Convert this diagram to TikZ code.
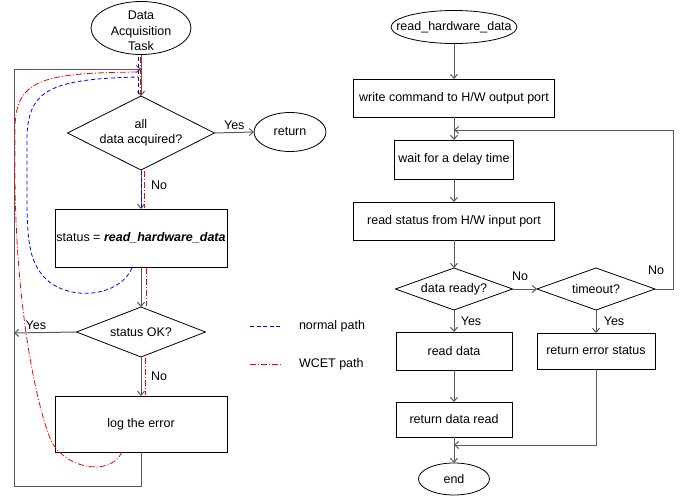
\documentclass[tikz,border=0pt]{standalone}
\usepackage{fontspec}
\setmainfont{Liberation Sans}
\usetikzlibrary{shapes.geometric,arrows.meta}
\begin{document}
\begin{tikzpicture}[x=1pt,y=-1pt,
  font=\fontsize{12.5}{15.5}\selectfont,
  every node/.style={inner sep=0pt, outer sep=0pt},
  box/.style={draw=black, line width=0.8pt, fill=white, rectangle, align=center},
  ellshape/.style={draw=black, line width=0.8pt, fill=white, ellipse},
  dia/.style={draw=black, line width=0.8pt, fill=white, diamond, align=center},
  conn/.style={draw=black!65, line width=1pt, -{Straight Barb[length=4pt,width=7pt]}},
  plain/.style={draw=black!65, line width=1pt},
  npath/.style={blue, line width=0.8pt, dash pattern=on 4pt off 2.6pt},
  wpath/.style={red, line width=0.8pt, dash pattern=on 6pt off 2pt on 1pt off 2pt},
]
\useasboundingbox (0,0) rectangle (681,498);

% ---------- left chart ----------
\node[ellshape, minimum width=100pt, minimum height=53pt] (start) at (141,28) {};
\node[align=center] (startT) at (141,31) {Data\\Acquisition\\Task};
\node[dia, aspect=2, minimum width=147pt, minimum height=74pt] (q1) at (141,133) {all\\data acquired?};
\node[ellshape, minimum width=72pt, minimum height=39pt] (ret) at (290,132) {return};
\node[box, minimum width=172pt, minimum height=58pt] (stat) at (141,238) {status = \textbf{\textit{read\_hardware\_data}}};
\node[dia, aspect=2.58, minimum width=129pt, minimum height=50pt] (q2) at (141,332) {status OK?};
\node[box, minimum width=172pt, minimum height=56pt] (log) at (141,424) {log the error};

\coordinate (lb) at (141,486);
\coordinate (lt) at (14,69);
\coordinate (ly) at (14,333);

\draw[conn] (start.south) -- (q1.north);
\draw[conn] (q1.east) -- node[above=3pt] (yes1) {Yes} (ret.west);
\draw[conn] (q1.south) -- node[right=10pt, pos=0.4] (no1) {No} (stat.north);
\draw[conn] (stat.south) -- (q2.north);
\draw[conn] (q2.west) -- node[above=3pt, pos=0.65] (yes2) {Yes} (ly);
\draw[conn] (q2.south) -- node[right=10pt, pos=0.5] (no2) {No} (log.north);
\draw[conn] (log.south) -- (lb) -| (lt) -- (start.south |- lt);

% normal path (blue)
\draw[npath] (138,57) -- (138,95);
\draw[npath] (141,171) -- (141,208);
\draw[npath] (132,268) .. controls (118,300) and (60,302) .. (40,272)
  .. controls (30,258) and (27,240) .. (27,200) -- (27,140)
  .. controls (27,90) and (50,79) .. (138,77);

% WCET path (red)
\draw[wpath] (140,57) -- (140,95);
\draw[wpath] (144,171) -- (144,208);
\draw[wpath] (146,268) -- (146,306);
\draw[wpath] (145,358) -- (145,395);
\draw[wpath] (122,452) .. controls (110,478) and (62,468) .. (50,438)
  .. controls (35,400) and (15,300) .. (15,170) -- (15,130)
  .. controls (15,80) and (40,73) .. (137,72);

% legend
\coordinate (n1) at (250,326);
\coordinate (n2) at (283,326);
\coordinate (w1a) at (250,364);
\coordinate (w2a) at (283,364);
\draw[npath] (n1) -- (n2);
\draw[wpath] (w1a) -- (w2a);
\node[anchor=west] (nlab) at (299,326) {normal path};
\node[anchor=west] (wlab) at (299,364) {WCET path};

% ---------- right chart ----------
\node[ellshape, minimum width=126pt, minimum height=33pt] (rs) at (454,27) {};
\node (rsT) at (454,27) {read\_hardware\_data};
\node[box, minimum width=201pt, minimum height=38pt] (b1) at (454,98) {write command to H/W output port};
\node[box, minimum width=119pt, minimum height=39pt] (b2) at (454,159.5) {wait for a delay time};
\node[box, minimum width=201pt, minimum height=38pt] (b3) at (454,221) {read status from H/W input port};
\node[dia, aspect=2.8, minimum width=117pt, minimum height=42pt] (d1) at (454,289) {data ready?};
\node[dia, aspect=2.8, minimum width=118pt, minimum height=42pt] (d2) at (596,289) {timeout?};
\node[box, minimum width=116pt, minimum height=38pt] (rd) at (454,351) {read data};
\node[box, minimum width=116pt, minimum height=35pt] (rdr) at (454,419.5) {return data read};
\node[box, minimum width=118pt, minimum height=36pt] (res) at (596,351) {return error status};
\node[ellshape, minimum width=71pt, minimum height=32pt] (endn) at (454,479) {end};

\coordinate (rr) at (673,130);
\coordinate (mj) at (454,445);

\draw[conn] (rs.south) -- (b1.north);
\draw[conn] (b1.south) -- (b2.north);
\draw[conn] (b2.south) -- (b3.north);
\draw[conn] (b3.south) -- (d1.north);
\draw[conn] (d1.east) -- (d2.west);
\node (no3) at (520,276) {No};
\draw[conn] (d2.east) -| (rr) -- (b2.north |- rr);
\node (no4) at (656,270) {No};
\draw[conn] (d1.south) -- (rd.north);
\node (yes3) at (471,321) {Yes};
\draw[conn] (d2.south) -- (res.north);
\node (yes4) at (614,321) {Yes};
\draw[conn] (rd.south) -- (rdr.north);
\draw[conn] (rdr.south) -- (endn.north);
\draw[conn] (res.south) |- (mj);
\end{tikzpicture}
\end{document}
